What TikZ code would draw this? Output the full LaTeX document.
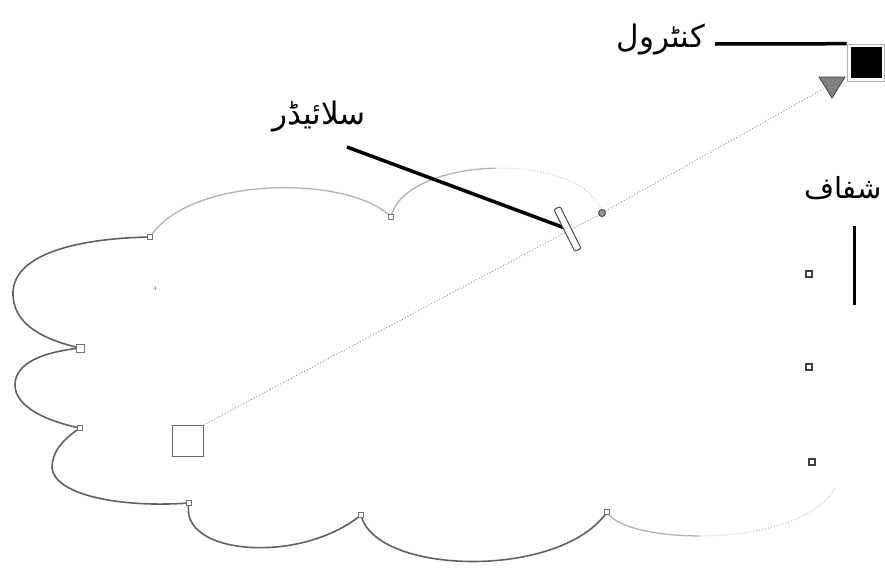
\documentclass[tikz,border=0pt]{standalone}
\usepackage{fontspec}
\newfontfamily\arabicfont[Script=Arabic]{DejaVu Sans}
\TeXXeTstate=1
\pgfdeclarelayer{bg}
\pgfsetlayers{bg,main}
\tikzset{
  vtx/.style={draw=black!55, fill=white, minimum size=5pt, inner sep=0pt, line width=0.8pt},
  vtxdark/.style={draw=black!75, fill=white, minimum size=6pt, inner sep=0pt, line width=1.1pt},
  cloudline/.style={draw=black!62, line width=1.6pt},
  faintline/.style={draw=black!30, line width=1.3pt},
  fadeline/.style={draw=black!22, line width=1pt, dotted},
  leader/.style={draw=black, line width=3.5pt},
  guide/.style={draw=black!40, line width=1pt, dotted},
  urdu/.style={inner sep=0pt}
}
\begin{document}
\begin{tikzpicture}[x=1pt,y=-1pt]
\useasboundingbox (0,0) rectangle (885,573);
% cloud vertices
\coordinate (A) at (150,237);
\coordinate (B) at (391,217);
\coordinate (C) at (602,213);
\coordinate (D) at (80,348);
\coordinate (E) at (80,428);
\coordinate (F) at (189,503);
\coordinate (G) at (361,515);
\coordinate (H) at (607,512);
\coordinate (I) at (835,488);
% texts
\node[urdu, font=\arabicfont\fontsize{31}{35}\selectfont] (lblctl) at (661,40) {\beginR کنٹرول\endR};
\node[urdu, font=\arabicfont\fontsize{31}{35}\selectfont] (lblsl) at (319,117) {\beginR سلائیڈر\endR};
\node[urdu, font=\arabicfont\fontsize{29}{33}\selectfont] (lbltr) at (843,188) {\beginR شفاف\endR};
\node[font=\fontsize{6}{6}\selectfont, text=black!60] (four) at (155,288) {4};
% handles and widgets
\node[draw=black!60, fill=white, line width=1pt, minimum size=31pt, inner sep=0pt] (sq) at (187.5,441) {};
\node[draw=black!70, fill=white, line width=1pt, rounded corners=2pt, minimum width=47pt, minimum height=7pt, inner sep=0pt, rotate=-63.4] (slider) at (567.5,229) {};
\node[circle, draw=black!70, fill=black!40, line width=1pt, minimum size=7pt, inner sep=0pt] (hc) at (C) {};
\node[draw=black!30, line width=0.6pt, minimum size=37pt, inner sep=0pt] (ctlframe) at (865.5,62.5) {};
\node[draw=black, fill=black, minimum size=30pt, inner sep=0pt] (ctl) at (866.5,62.5) {};
\coordinate (tri) at (832,84);
\fill[black!50, draw=black!75, line width=0.8pt] (819,77) -- (845,77) -- (832,98) -- cycle;
% vertex markers
\foreach \v in {A,B,E,F,G,H} { \node[vtx] (m\v) at (\v) {}; }
\node[vtx, minimum size=8pt] (mD) at (D) {};
\node[vtxdark] (r1) at (809,274) {};
\node[vtxdark] (r2) at (809,367) {};
\node[vtxdark] (r3) at (812,462) {};
% leader endpoints
\coordinate (ctlA) at (715,44);
\coordinate (slA) at (347,147);
\coordinate (vtop) at (854,226);
\coordinate (vbot) at (854,305);
\begin{pgfonlayer}{bg}
  % cloud outline
  \draw[faintline] (A) .. controls (190,175) and (350,175) .. (B);
  \draw[faintline] (B) .. controls (398,186) and (446.5,169.25) .. (495.4,168.1);
  \draw[fadeline] (495.4,168.1) .. controls (544.25,167) and (593.5,181.5) .. (C);
  \draw[cloudline] (A) .. controls (90,238) and (15,250) .. (13,292)
                       .. controls (12,325) and (45,340) .. (D);
  \draw[cloudline] (D) .. controls (45,352) and (15,362) .. (15,385)
                       .. controls (15,408) and (50,422) .. (E);
  \draw[cloudline] (E) .. controls (62,440) and (52,452) .. (52,468)
                       .. controls (55,495) and (120,508) .. (F);
  \draw[cloudline] (F) .. controls (178,555) and (300,565) .. (G);
  \draw[cloudline] (G) .. controls (375,575) and (560,580) .. (H);
  \draw[faintline] (H) .. controls (615.1,526.85) and (655,535.94) .. (699.6,535.95);
  \draw[fadeline, line width=1.3pt] (699.6,535.95) .. controls (754.15,535.95) and (815.75,522.1) .. (I);
  % guide
  \draw[guide] (sq.north east) -- (hc) -- (tri);
  % leaders
  \draw[leader] (ctlA) -- (ctlframe.north west);
  \draw[leader] (slA) -- (slider.center);
  \draw[line width=3pt] (vtop) -- (vbot);
\end{pgfonlayer}
\end{tikzpicture}
\end{document}
